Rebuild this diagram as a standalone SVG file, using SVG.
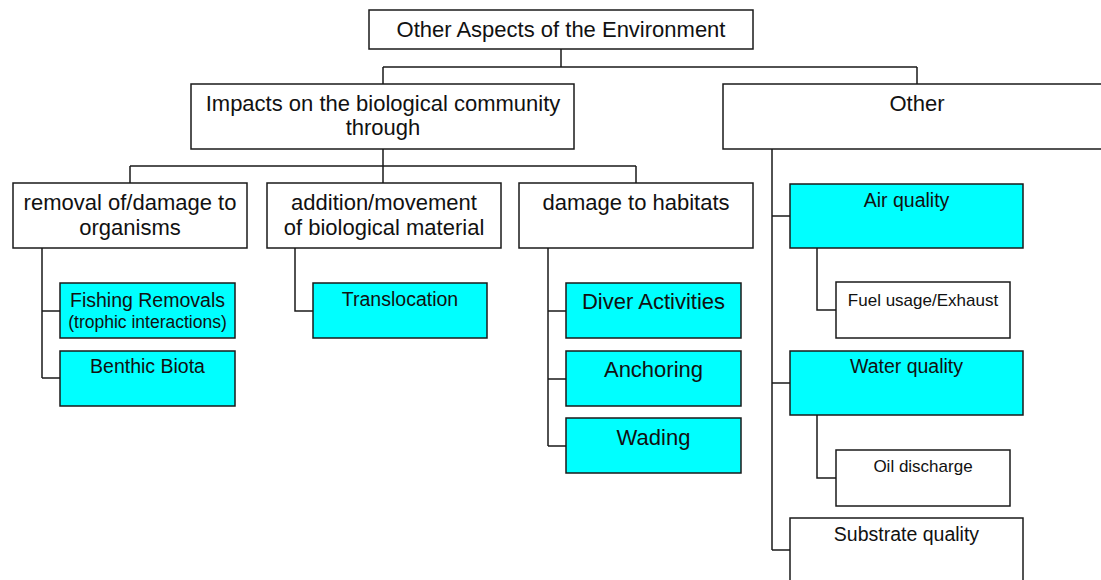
<svg xmlns="http://www.w3.org/2000/svg" width="1101" height="580" viewBox="0 0 1101 580">
<style>
.b{fill:#fff;stroke:#1a1a1a;stroke-width:1.5}
.c{fill:#00ffff;stroke:#1a1a1a;stroke-width:1.5}
.l{fill:none;stroke:#1a1a1a;stroke-width:1.5}
text{font-family:"Liberation Sans",Arial,sans-serif;fill:#111;text-anchor:middle}
.t22{font-size:22px}.t19{font-size:19.5px}.t17{font-size:17px}
</style>
<rect width="1101" height="580" fill="#fff"/>
<g id="connectors" class="l">
<path d="M561,49V67M383,67H917M383,67V84M917,67V84"/>
<path d="M383,149V183M130,166H636M130,166V183M636,166V183"/>
<path d="M42,248V378M42,311H60M42,378H60"/>
<path d="M295,248V311H313"/>
<path d="M548,248V446M548,311H566M548,379H566M548,446H566"/>
<path d="M772,149V550M772,216H790M772,383H790M772,550H790"/>
<path d="M817,248V310H836M817,415V478H836"/>
</g>
<g id="root"><rect class="b" x="369" y="10" width="384" height="39"/><text class="t22" x="561" y="37">Other Aspects of the Environment</text></g>
<g id="impacts"><rect class="b" x="191" y="84" width="383" height="65"/><text class="t22" x="383" y="111">Impacts on the biological community</text><text class="t22" x="383" y="135">through</text></g>
<g id="other"><rect class="b" x="723" y="84" width="390" height="65"/><text class="t22" x="917" y="111">Other</text></g>
<g id="removal"><rect class="b" x="13" y="183" width="234" height="65"/><text class="t22" x="130" y="210">removal of/damage to</text><text class="t22" x="130" y="235">organisms</text></g>
<g id="addition"><rect class="b" x="267" y="183" width="234" height="65"/><text class="t22" x="384" y="210">addition/movement</text><text class="t22" x="384" y="235">of biological material</text></g>
<g id="habitats"><rect class="b" x="519" y="183" width="234" height="65"/><text class="t22" x="636" y="210">damage to habitats</text></g>
<g id="fishing"><rect class="c" x="60" y="283" width="175" height="55"/><text class="t19" x="147.5" y="306.5">Fishing Removals</text><text style="font-size:17.5px" x="147.5" y="328">(trophic interactions)</text></g>
<g id="benthic"><rect class="c" x="60" y="351" width="175" height="55"/><text class="t19" x="147.5" y="372.5">Benthic Biota</text></g>
<g id="translocation"><rect class="c" x="313" y="283" width="174" height="55"/><text class="t19" x="400" y="306">Translocation</text></g>
<g id="diver"><rect class="c" x="566" y="283" width="175" height="55"/><text class="t22" x="653.5" y="309">Diver Activities</text></g>
<g id="anchoring"><rect class="c" x="566" y="351" width="175" height="55"/><text class="t22" x="653.5" y="376.5">Anchoring</text></g>
<g id="wading"><rect class="c" x="566" y="418" width="175" height="55"/><text class="t22" x="653.5" y="445">Wading</text></g>
<g id="air"><rect class="c" x="790" y="184" width="233" height="64"/><text class="t19" x="906.5" y="206.5">Air quality</text></g>
<g id="fuel"><rect class="b" x="836" y="282" width="174" height="56"/><text class="t17" x="923" y="305.5">Fuel usage/Exhaust</text></g>
<g id="water"><rect class="c" x="790" y="351" width="233" height="64"/><text class="t19" x="906.5" y="373">Water quality</text></g>
<g id="oil"><rect class="b" x="836" y="450" width="174" height="56"/><text class="t17" x="923" y="472">Oil discharge</text></g>
<g id="substrate"><rect class="b" x="790" y="518" width="233" height="70"/><text class="t19" x="906.5" y="540.5">Substrate quality</text></g>
</svg>
